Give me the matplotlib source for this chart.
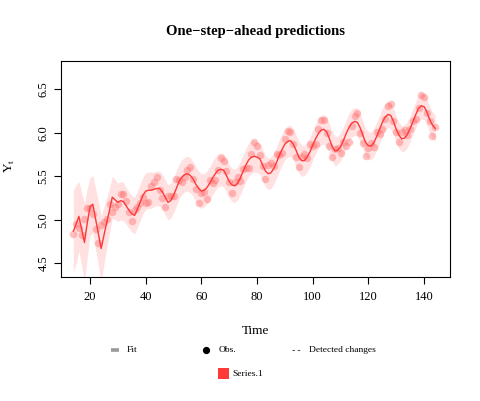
import numpy as np
import matplotlib
matplotlib.use("Agg")
import matplotlib.pyplot as plt
from matplotlib.lines import Line2D
from matplotlib.patches import Rectangle

plt.rcParams['font.family'] = ['Liberation Serif', 'DejaVu Serif']

# ---- data ----
time = list(range(14, 145))

obs = [4.836, 4.949, 4.905, 4.828, 5.004, 5.136, 5.136, 5.063, 4.890, 4.736, 4.942,
       4.977, 5.011, 5.182, 5.094, 5.147, 5.182, 5.293, 5.293, 5.215, 5.088, 4.984, 5.112,
       5.142, 5.193, 5.263, 5.198, 5.209, 5.384, 5.438, 5.489, 5.342, 5.252, 5.147, 5.268,
       5.278, 5.278, 5.464, 5.460, 5.434, 5.493, 5.576, 5.606, 5.468, 5.352, 5.193, 5.303,
       5.318, 5.236, 5.460, 5.425, 5.455, 5.576, 5.710, 5.680, 5.557, 5.434, 5.313, 5.434,
       5.489, 5.451, 5.587, 5.595, 5.598, 5.753, 5.897, 5.849, 5.743, 5.613, 5.468, 5.628,
       5.649, 5.624, 5.759, 5.746, 5.762, 5.924, 6.023, 6.004, 5.872, 5.724, 5.602, 5.724,
       5.753, 5.707, 5.875, 5.852, 5.872, 6.045, 6.142, 6.146, 6.001, 5.849, 5.720, 5.817,
       5.829, 5.762, 5.892, 5.852, 5.894, 6.075, 6.196, 6.225, 6.001, 5.883, 5.737, 5.820,
       5.886, 5.835, 6.006, 5.981, 6.040, 6.157, 6.306, 6.326, 6.138, 6.009, 5.892, 6.004,
       6.033, 5.969, 6.038, 6.133, 6.157, 6.282, 6.433, 6.407, 6.230, 6.133, 5.966, 6.068]

fit = [4.87, 4.95, 5.04, 4.89, 4.74, 4.96, 5.15, 5.18, 5.01, 4.84, 4.67,
       4.82, 4.97, 5.11, 5.26, 5.23, 5.20, 5.22, 5.21, 5.16, 5.11, 5.07, 5.05,
       5.12, 5.20, 5.28, 5.33, 5.34, 5.34, 5.35, 5.36, 5.36, 5.32, 5.26, 5.20,
       5.22, 5.28, 5.36, 5.44, 5.49, 5.52, 5.53, 5.51, 5.47, 5.41, 5.36, 5.33,
       5.34, 5.37, 5.42, 5.48, 5.53, 5.57, 5.58, 5.57, 5.51, 5.44, 5.40, 5.39,
       5.42, 5.48, 5.56, 5.63, 5.69, 5.72, 5.73, 5.72, 5.70, 5.63, 5.56, 5.53,
       5.54, 5.59, 5.66, 5.74, 5.81, 5.87, 5.90, 5.91, 5.87, 5.80, 5.72, 5.68,
       5.68, 5.72, 5.78, 5.86, 5.93, 5.99, 6.03, 6.04, 6.01, 5.93, 5.84, 5.79,
       5.80, 5.84, 5.91, 5.99, 6.06, 6.11, 6.13, 6.12, 6.06, 5.97, 5.89, 5.85,
       5.85, 5.89, 5.96, 6.04, 6.12, 6.18, 6.21, 6.20, 6.13, 6.04, 5.97, 5.93,
       5.94, 5.98, 6.05, 6.13, 6.21, 6.28, 6.31, 6.30, 6.24, 6.15, 6.09, 6.05]

ci_half = [0.47, 0.45, 0.40, 0.42, 0.45, 0.40, 0.33, 0.33, 0.35, 0.37, 0.38,
           0.33, 0.29, 0.26, 0.24, 0.23, 0.22, 0.22, 0.22, 0.21, 0.21, 0.21, 0.21,
           0.21, 0.21, 0.21, 0.21, 0.21, 0.21, 0.20, 0.20, 0.20, 0.20, 0.20, 0.20,
           0.20, 0.20, 0.20, 0.20, 0.20, 0.20, 0.20, 0.20, 0.20, 0.20, 0.20, 0.20,
           0.19, 0.19, 0.19, 0.19, 0.19, 0.19, 0.19, 0.19, 0.19, 0.19, 0.19, 0.19,
           0.19, 0.19, 0.19, 0.19, 0.19, 0.19, 0.18, 0.18, 0.18, 0.18, 0.18, 0.18,
           0.18, 0.18, 0.18, 0.18, 0.18, 0.18, 0.18, 0.18, 0.18, 0.18, 0.18, 0.18,
           0.17, 0.17, 0.17, 0.17, 0.17, 0.17, 0.17, 0.17, 0.17, 0.17, 0.17, 0.17,
           0.16, 0.16, 0.16, 0.16, 0.16, 0.16, 0.16, 0.16, 0.16, 0.16, 0.16, 0.16,
           0.16, 0.16, 0.16, 0.16, 0.16, 0.16, 0.15, 0.15, 0.15, 0.15, 0.15, 0.15,
           0.15, 0.15, 0.15, 0.15, 0.15, 0.15, 0.15, 0.15, 0.15, 0.15, 0.15, 0.15]

x_ticks = [20, 40, 60, 80, 100, 120, 140]
y_ticks = [4.5, 5.0, 5.5, 6.0, 6.5]

# ---- figure ----
W, H = 481, 401
fig = plt.figure(figsize=(W / 100, H / 100), dpi=100)
ax = fig.add_axes([60.7 / W, 1 - 276.7 / H, (450 - 60.7) / W, (276.7 - 61) / H])

t = np.array(time)
f = np.array(fit)
h = np.array(ci_half)
ax.fill_between(t, f - h, f + h, color='#FFE1E1', lw=0, zorder=1)
ax.plot(t, obs, 'o', color='#FF6B6B', alpha=0.42, markersize=5.4,
        markeredgewidth=0, zorder=2)
ax.plot(t, f, color='#FF3838', lw=1.0, zorder=3)

ax.set_xlim(9.47, 149.3)
ax.set_ylim(4.346, 6.825)
ax.set_xticks(x_ticks)
ax.set_xticklabels([str(v) for v in x_ticks])
ax.set_yticks(y_ticks)
ax.set_yticklabels([f"{v:.1f}" for v in y_ticks], rotation=90, va='center')
ax.tick_params(axis='both', direction='out', length=5, width=0.8,
               labelsize=9, pad=3)
ax.tick_params(axis='x', pad=5)
for s in ax.spines.values():
    s.set_linewidth(0.8)

# ---- text ----
fig.text(255.5 / W, 1 - 31 / H, "One\u2212step\u2212ahead predictions",
         ha='center', va='center', fontsize=10.5, fontweight='bold')
fig.text(256 / W, 1 - 331 / H, "Time", ha='center', va='center', fontsize=9.5)
fig.text(10 / W, 1 - 166 / H, r"Y$_\mathregular{t}$", ha='center', va='center',
         fontsize=9.5, rotation=90)

# ---- legend (pixel coordinates) ----
lax = fig.add_axes([0, 0, 1, 1], facecolor='none')
lax.set_xlim(0, W)
lax.set_ylim(H, 0)
lax.axis('off')
lax.add_line(Line2D([111.5, 119.5], [350, 350], color='#9A9A9A', lw=2.6,
                    solid_capstyle='butt'))
lax.text(126.5, 350, "Fit", va='center', ha='left', fontsize=6.8)
lax.add_line(Line2D([205.7], [350], marker='o', color='black', markersize=4.2,
                    linestyle='none'))
lax.text(218.3, 350, "Obs.", va='center', ha='left', fontsize=6.8)
lax.add_line(Line2D([292.5, 300.5], [350, 350], color='#555555', lw=0.8,
                    linestyle=(0, (2.2, 2.5))))
lax.text(309, 350, "Detected changes", va='center', ha='left', fontsize=6.8)
lax.add_patch(Rectangle((218, 368), 11, 11, facecolor='#FF3838', edgecolor='none'))
lax.text(232.3, 373.5, "Series.1", va='center', ha='left', fontsize=6.8)

fig.savefig("out.png", dpi=100)
